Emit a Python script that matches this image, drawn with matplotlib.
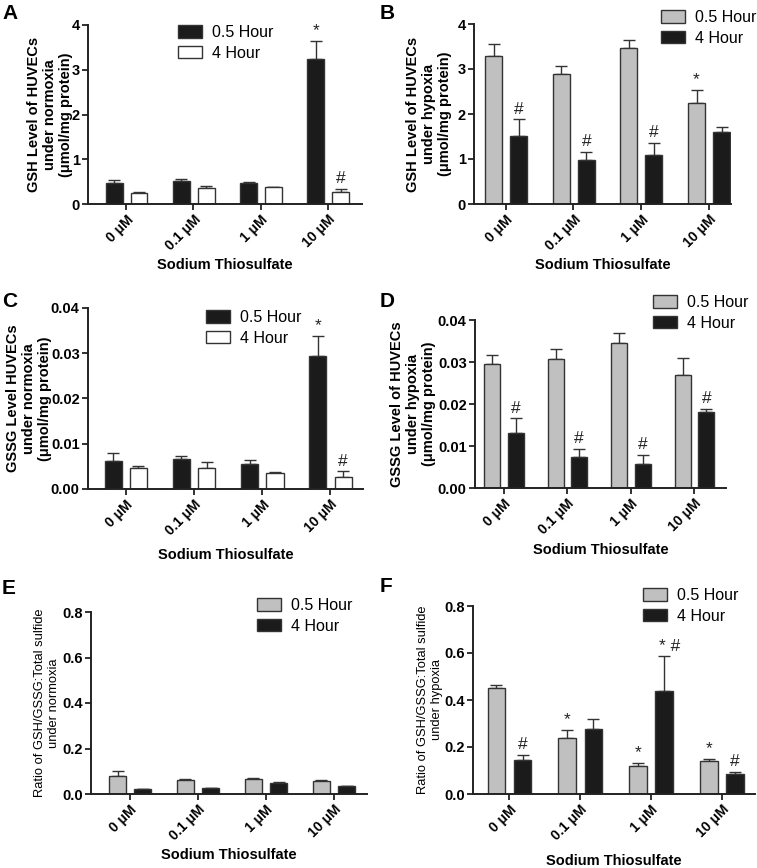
import matplotlib
matplotlib.use("Agg")
import matplotlib.pyplot as plt
from matplotlib.patches import Patch
import numpy as np

plt.rcParams['font.family'] = ['Liberation Sans', 'DejaVu Sans']

categories = ["0 μM", "0.1 μM", "1 μM", "10 μM"]
series_names = ["0.5 Hour", "4 Hour"]

# Panel A: GSH normoxia
a_05 = [0.47, 0.51, 0.46, 3.24]
a_05_err = [0.07, 0.05, 0.04, 0.40]
a_4 = [0.24, 0.36, 0.37, 0.26]
a_4_err = [0.02, 0.05, 0.02, 0.08]
# Panel B: GSH hypoxia
b_05 = [3.29, 2.89, 3.46, 2.24]
b_05_err = [0.27, 0.18, 0.18, 0.29]
b_4 = [1.52, 0.97, 1.08, 1.61]
b_4_err = [0.36, 0.19, 0.27, 0.09]
# Panel C: GSSG normoxia
c_05 = [0.0062, 0.0067, 0.0056, 0.0294]
c_05_err = [0.0017, 0.0006, 0.0008, 0.0045]
c_4 = [0.0047, 0.0047, 0.0035, 0.0027]
c_4_err = [0.0004, 0.0012, 0.0003, 0.0012]
# Panel D: GSSG hypoxia
d_05 = [0.0295, 0.0306, 0.0346, 0.0269]
d_05_err = [0.0021, 0.0025, 0.0024, 0.0040]
d_4 = [0.0131, 0.0074, 0.0057, 0.0180]
d_4_err = [0.0035, 0.0020, 0.0021, 0.0009]
# Panel E: ratio normoxia
e_05 = [0.080, 0.063, 0.067, 0.055]
e_05_err = [0.022, 0.003, 0.003, 0.005]
e_4 = [0.022, 0.025, 0.050, 0.035]
e_4_err = [0.001, 0.003, 0.001, 0.001]
# Panel F: ratio hypoxia
f_05 = [0.452, 0.237, 0.120, 0.141]
f_05_err = [0.010, 0.035, 0.014, 0.007]
f_4 = [0.145, 0.275, 0.440, 0.083]
f_4_err = [0.022, 0.043, 0.146, 0.012]

# significance marks (series 0 = 0.5 Hour, series 1 = 4 Hour)
a_marks = [("", ""), ("", ""), ("", ""), ("*", "#")]
b_marks = [("", "#"), ("", "#"), ("", "#"), ("*", "")]
c_marks = [("", ""), ("", ""), ("", ""), ("*", "#")]
d_marks = [("", "#"), ("", "#"), ("", "#"), ("", "#")]
e_marks = [("", ""), ("", ""), ("", ""), ("", "")]
f_marks = [("", "#"), ("*", ""), ("*", "* #"), ("*", "#")]

BLACK = "#1b1b1b"
GRAY = "#c0c0c0"
WHITE = "#ffffff"
EDGE = "#333333"

W, H = 757, 868
fig = plt.figure(figsize=(W / 100, H / 100), dpi=100)


def px_axes(left, top, right, bottom):
    return fig.add_axes([left / W, 1 - bottom / H, (right - left) / W, (bottom - top) / H])


def panel(ax, v1, e1, v2, e2, colors, marks, ylim, yticks, yfmt, ylabel, ylabel_kw, ylabel_x,
          xlim, leg_xy, letter, letter_xy, xlabel_y):
    x = np.arange(len(categories))
    off = (-0.18, 0.19)
    width = 0.25
    for i, (vals, errs, col) in enumerate(((v1, e1, colors[0]), (v2, e2, colors[1]))):
        xs = x + off[i]
        ax.bar(xs, vals, width=width, color=col, edgecolor=EDGE, linewidth=1.0, zorder=2)
        ax.errorbar(xs, vals, yerr=[np.zeros(len(vals)), errs], fmt='none',
                    ecolor=EDGE, elinewidth=1.0, capsize=4.2, capthick=1.0, zorder=1)
        for j in range(len(vals)):
            m = marks[j][i]
            if m:
                dx = 4 if m == "* #" else 0
                ax.annotate(m, (xs[j], vals[j] + errs[j]), xytext=(dx, 2),
                            textcoords='offset points', ha='center', va='bottom',
                            fontsize=12.5, color='#222222')
    ax.set_xlim(*xlim)
    ax.set_ylim(*ylim)
    ax.set_yticks(yticks)
    ax.set_yticklabels([yfmt.format(t) for t in yticks], fontweight='bold', fontsize=10.5)
    ax.set_xticks(x)
    ax.set_xticklabels(categories, rotation=45, ha='right', rotation_mode='anchor',
                       fontweight='bold', fontsize=10)
    for s in ('top', 'right'):
        ax.spines[s].set_visible(False)
    for s in ('left', 'bottom'):
        ax.spines[s].set_linewidth(1.4)
        ax.spines[s].set_color('#222222')
    ax.tick_params(axis='both', length=4, width=1.3, color='#222222', pad=2)
    ax.set_ylabel(ylabel, va='center', **ylabel_kw)
    bb = ax.get_position()
    ax.yaxis.set_label_coords(ylabel_x / W, (bb.y0 + bb.y1) / 2, transform=fig.transFigure)
    ax.set_xlabel("Sodium Thiosulfate", fontweight='bold', fontsize=10.5, va='center')
    ax.xaxis.set_label_coords((bb.x0 + bb.x1) / 2, 1 - xlabel_y / H, transform=fig.transFigure)
    handles = [Patch(facecolor=colors[0], edgecolor=EDGE, linewidth=1.0),
               Patch(facecolor=colors[1], edgecolor=EDGE, linewidth=1.0)]
    ax.legend(handles, series_names, loc='upper left',
              bbox_to_anchor=(leg_xy[0] / W, 1 - (leg_xy[1] + 3) / H),
              bbox_transform=fig.transFigure, frameon=False, fontsize=11.5,
              handlelength=1.5, handleheight=0.8, handletextpad=0.6,
              labelspacing=0.35, borderpad=0, borderaxespad=0)
    fig.text(letter_xy[0] / W, 1 - letter_xy[1] / H, letter, fontsize=15,
             fontweight='bold', va='top', ha='left')


bold_lab = dict(fontweight='bold', fontsize=10.5, linespacing=1.2)
reg_lab = dict(fontsize=9.3, linespacing=1.2)

axA = px_axes(88, 25, 362, 204)
panel(axA, a_05, a_05_err, a_4, a_4_err, (BLACK, WHITE), a_marks, (0, 4), [0, 1, 2, 3, 4], "{:g}",
      "GSH Level of HUVECs\nunder normoxia\n(μmol/mg protein)", bold_lab, 50,
      (-0.57, 3.51), (178, 22), "A", (2, 4), 265)

axB = px_axes(474, 24, 731, 204)
panel(axB, b_05, b_05_err, b_4, b_4_err, (GRAY, BLACK), b_marks, (0, 4), [0, 1, 2, 3, 4], "{:g}",
      "GSH Level of HUVECs\nunder hypoxia\n(μmol/mg protein)", bold_lab, 429,
      (-0.47, 3.33), (661, 7), "B", (380, 4), 265)

axC = px_axes(88, 308, 363, 489)
panel(axC, c_05, c_05_err, c_4, c_4_err, (BLACK, WHITE), c_marks, (0, 0.04),
      [0, 0.01, 0.02, 0.03, 0.04], "{:.2f}",
      "GSSG Level HUVECs\nunder normoxia\n(μmol/mg protein)", bold_lab, 29,
      (-0.55, 3.48), (206, 307), "C", (2, 292), 555)

axD = px_axes(475, 320, 726, 488)
panel(axD, d_05, d_05_err, d_4, d_4_err, (GRAY, BLACK), d_marks, (0, 0.04),
      [0, 0.01, 0.02, 0.03, 0.04], "{:.2f}",
      "GSSG Level of HUVECs\nunder hypoxia\n(μmol/mg protein)", bold_lab, 413,
      (-0.45, 3.5), (653, 292), "D", (380, 292), 550)

axE = px_axes(91, 612, 367, 794)
panel(axE, e_05, e_05_err, e_4, e_4_err, (GRAY, BLACK), e_marks, (0, 0.8),
      [0, 0.2, 0.4, 0.6, 0.8], "{:.1f}",
      "Ratio of GSH/GSSG:Total sulfide\nunder normoxia", reg_lab, 47,
      (-0.57, 3.49), (257, 595), "E", (2, 579), 855)

axF = px_axes(473, 606, 755, 794)
panel(axF, f_05, f_05_err, f_4, f_4_err, (GRAY, BLACK), f_marks, (0, 0.8),
      [0, 0.2, 0.4, 0.6, 0.8], "{:.1f}",
      "Ratio of GSH/GSSG:Total sulfide\nunder hypoxia", reg_lab, 430,
      (-0.51, 3.47), (643, 585), "F", (380, 577), 861)

fig.savefig("out.png", dpi=100)
